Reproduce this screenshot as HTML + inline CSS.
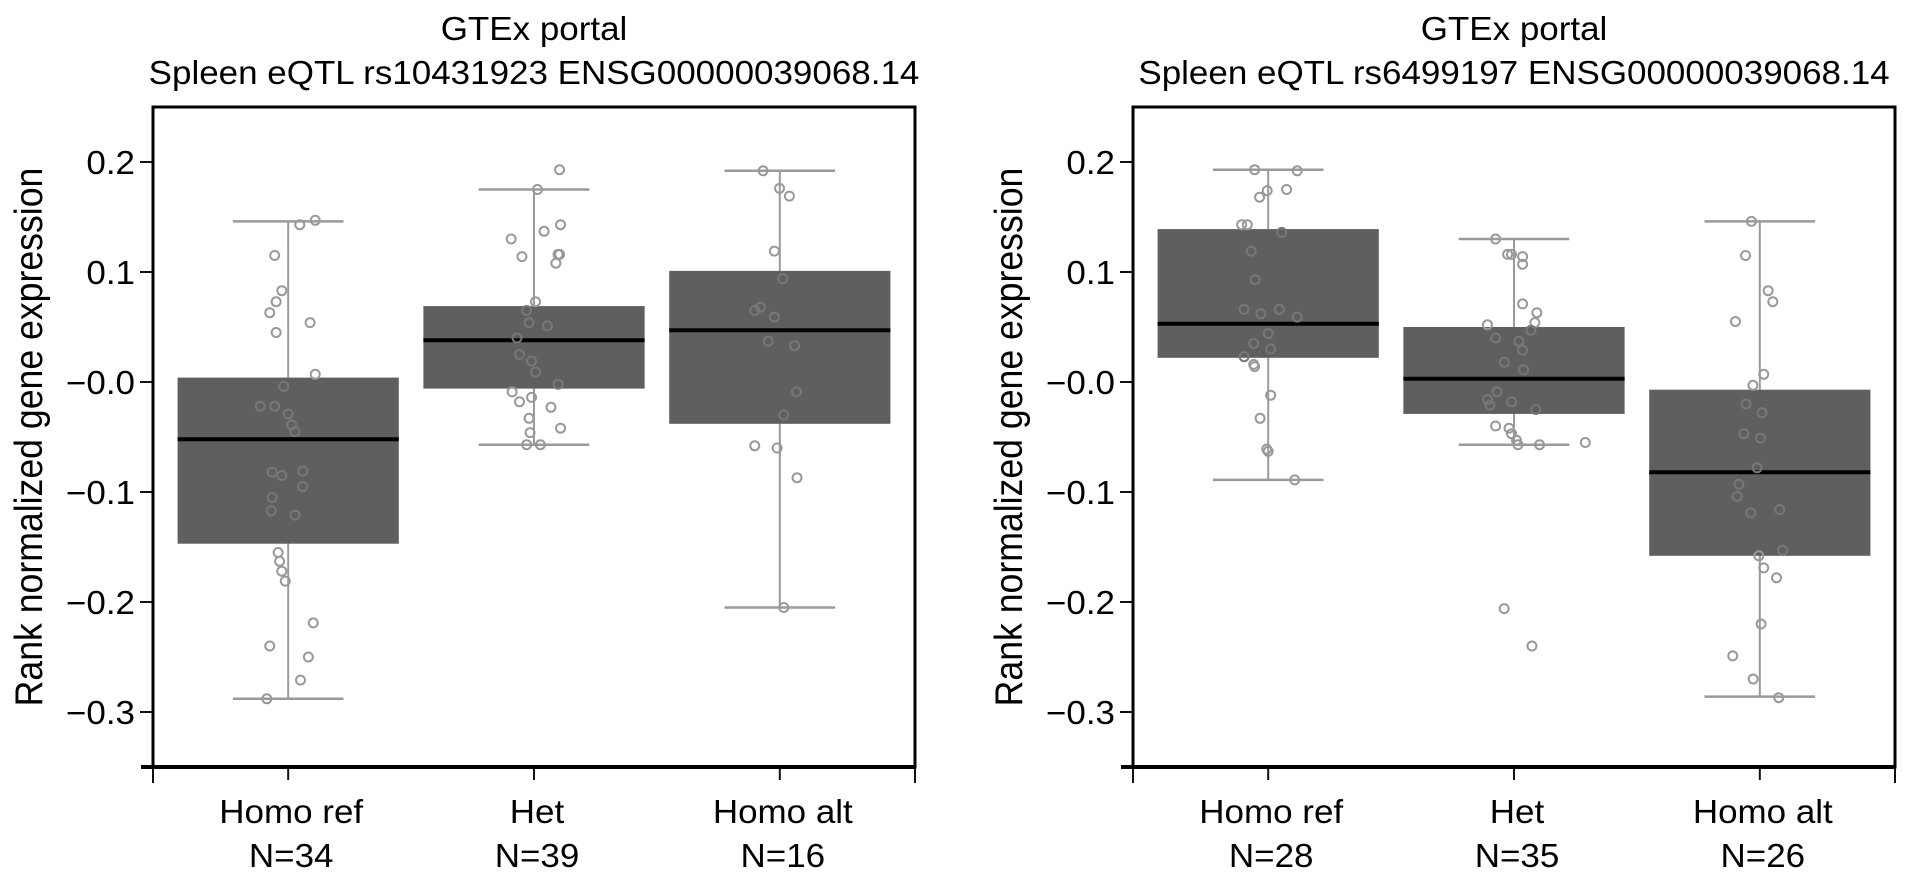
<!DOCTYPE html>
<html><head><meta charset="utf-8">
<style>
html,body{margin:0;padding:0;background:#fff;}
svg{display:block;}
text{font-family:"Liberation Sans",Arial,sans-serif;fill:#000;}
</style></head>
<body>
<svg id="chart" width="1913" height="877" viewBox="0 0 1913 877" xmlns="http://www.w3.org/2000/svg"></svg>
<script>
const categories = ["Homo ref","Het","Homo alt"];
const panelTitles = ["Spleen eQTL rs10431923 ENSG00000039068.14","Spleen eQTL rs6499197 ENSG00000039068.14"];
const countsA = [34,39,16];
const countsB = [28,35,26];
const yTicks = [0.2,0.1,0.0,-0.1,-0.2,-0.3];
const yTickLabels = ["0.2","0.1","\u22120.0","\u22120.1","\u22120.2","\u22120.3"];
// box stats: [whiskerLow, q1, median, q3, whiskerHigh]
const statsA = [[-0.288,-0.147,-0.052,0.004,0.146],[-0.057,-0.006,0.038,0.069,0.175],[-0.205,-0.038,0.047,0.101,0.192]];
const statsB = [[-0.089,0.022,0.053,0.139,0.193],[-0.057,-0.029,0.003,0.050,0.130],[-0.286,-0.158,-0.082,-0.007,0.146]];
// points: values and jitter (category units)
const ptsA0 = [0.143,0.147,0.115,0.083,0.073,0.063,0.054,0.045,0.007,-0.004,-0.022,-0.022,-0.029,-0.039,-0.045,-0.082,-0.085,-0.081,-0.095,-0.105,-0.117,-0.121,-0.155,-0.163,-0.172,-0.181,-0.219,-0.240,-0.250,-0.271,-0.288];
const jitA0 = [0.047,0.110,-0.055,-0.026,-0.049,-0.075,0.089,-0.049,0.110,-0.018,-0.114,-0.055,0,0.014,0.028,-0.065,-0.026,0.059,0.059,-0.065,-0.069,0.028,-0.041,-0.035,-0.026,-0.012,0.102,-0.075,0.082,0.050,-0.087];
const ptsA1 = [0.193,0.175,0.143,0.137,0.130,0.114,0.116,0.116,0.108,0.073,0.065,0.054,0.051,0.040,0.025,0.019,0.009,-0.002,-0.009,-0.018,-0.014,-0.023,-0.033,-0.042,-0.046,-0.057,-0.057];
const jitA1 = [0.104,0.014,0.108,0.041,-0.093,-0.049,0.098,0.104,0.089,0.006,-0.030,-0.020,0.055,-0.069,-0.059,-0.010,0.006,0.098,-0.089,-0.059,-0.010,0.069,-0.020,0.108,-0.016,-0.030,0.026];
const ptsA2 = [0.192,0.176,0.169,0.119,0.094,0.068,0.065,0.059,0.037,0.033,-0.009,-0.030,-0.058,-0.060,-0.087,-0.205];
const jitA2 = [-0.068,-0.001,0.039,-0.022,0.012,-0.079,-0.102,-0.022,-0.047,0.060,0.068,0.016,-0.102,-0.011,0.070,0.016];
const ptsB0 = [0.193,0.192,0.174,0.168,0.175,0.143,0.143,0.136,0.119,0.093,0.066,0.062,0.066,0.059,0.044,0.035,0.030,0.023,0.014,0.016,-0.012,-0.033,-0.061,-0.063,-0.089];
const jitB0 = [-0.055,0.118,-0.004,-0.035,0.075,-0.108,-0.085,0.055,-0.069,-0.053,-0.098,-0.030,0.045,0.118,0,-0.059,0.010,-0.098,-0.055,-0.059,0.010,-0.033,-0.006,0,0.108];
const ptsB1 = [0.130,0.116,0.116,0.114,0.107,0.071,0.063,0.054,0.052,0.047,0.040,0.037,0.029,0.018,0.011,-0.009,-0.016,-0.021,-0.018,-0.025,-0.040,-0.042,-0.047,-0.053,-0.057,-0.057,-0.206,-0.240,-0.055];
const jitB1 = [-0.075,-0.026,-0.010,0.035,0.035,0.035,0.093,0.085,-0.108,0.069,-0.075,0.020,0.035,-0.039,0.039,-0.069,-0.108,-0.098,-0.010,0.089,-0.075,-0.020,-0.010,0.010,0.016,0.104,-0.040,0.073,0.290];
const ptsB2 = [0.146,0.115,0.083,0.073,0.055,0.007,-0.003,-0.020,-0.028,-0.047,-0.051,-0.078,-0.093,-0.104,-0.119,-0.116,-0.153,-0.158,-0.169,-0.178,-0.220,-0.249,-0.270,-0.287];
const jitB2 = [-0.034,-0.058,0.034,0.053,-0.099,0.016,-0.028,-0.056,0.009,-0.065,0.003,-0.011,-0.085,-0.092,-0.037,0.081,0.093,-0.004,0.016,0.068,0.005,-0.110,-0.027,0.077];

const NS="http://www.w3.org/2000/svg";
const svg=document.getElementById('chart');
function el(tag,attrs,parent){const e=document.createElementNS(NS,tag);for(const k in attrs)e.setAttribute(k,attrs[k]);(parent||svg).appendChild(e);return e;}
function txt(str,x,y,size,anchor,parent,sx){const t=el('text',{'font-size':size,'text-anchor':anchor,transform:`translate(${x},${y}) scale(${sx||1.06},1)`},parent);t.textContent=str;return t;}

const Y0=-0.35,Y1=0.25,TOP=107,BOT=767;
function yScale(v){return BOT-(v-Y0)/(Y1-Y0)*(BOT-TOP);}
const panels=[
 {left:153,right:915,labelX:31,stats:statsA,counts:countsA,pts:[ptsA0,ptsA1,ptsA2],jit:[jitA0,jitA1,jitA2]},
 {left:1133,right:1895,labelX:1011,stats:statsB,counts:countsB,pts:[ptsB0,ptsB1,ptsB2],jit:[jitB0,jitB1,jitB2]}
];
panels.forEach((p,pi)=>{
 const g=el('g',{});
 
 
 const xScale=c=>p.left+(c+0.55)/3.1*(p.right-p.left);
 const unit=(p.right-p.left)/3.1;
 const cx=(p.left+p.right)/2;
 const t1=txt('GTEx portal',cx,40,33,'middle',g);
 
 const t2=txt(panelTitles[pi],cx,84,33,'middle',g);
 
 const yl=el('text',{'font-size':33,'text-anchor':'middle',transform:`translate(${p.labelX+11},${(TOP+BOT)/2}) rotate(-90) scale(1.08,1.18)`},g);
 yl.textContent='Rank normalized gene expression';
 
 yTicks.forEach((v,i)=>{
  const y=yScale(v);
  const tk=el('line',{x1:p.left-13,x2:p.left,y1:y,y2:y,stroke:'#111','stroke-width':2},g);
  
  const tl=txt(yTickLabels[i],p.left-18,y+12,33,'end',g);
  
 });
 categories.forEach((c,ci)=>{
  const s=p.stats[ci],x=xScale(ci),bw=0.9*unit,cw=0.45*unit;
  const bg=el('g',{},g);
  
  
  el('line',{x1:x,x2:x,y1:yScale(s[4]),y2:yScale(s[0]),stroke:'#9a9a9a','stroke-width':2},bg);
  el('line',{x1:x-cw/2,x2:x+cw/2,y1:yScale(s[4]),y2:yScale(s[4]),stroke:'#9a9a9a','stroke-width':2.5},bg);
  el('line',{x1:x-cw/2,x2:x+cw/2,y1:yScale(s[0]),y2:yScale(s[0]),stroke:'#9a9a9a','stroke-width':2.5},bg);
  el('rect',{x:x-bw/2,y:yScale(s[3]),width:bw,height:yScale(s[1])-yScale(s[3]),fill:'#5f5f5f'},bg);
  el('line',{x1:x-bw/2,x2:x+bw/2,y1:yScale(s[2]),y2:yScale(s[2]),stroke:'#000','stroke-width':4},bg);
  p.pts[ci].forEach((v,k)=>{
   const cy=yScale(v);
   const inside=cy>yScale(s[3])&&cy<yScale(s[1]);
   const pt=el('circle',{cx:x+p.jit[ci][k]*unit,cy:cy,r:4.5,fill:'none',stroke:inside?'#777':'#999','stroke-width':2},bg);
   
  });
  const tk=el('line',{x1:x,x2:x,y1:BOT,y2:BOT+13,stroke:'#111','stroke-width':2},g);
  
  const l1=txt(c,x+3,823,33,'middle',g);
  
  const l2=txt('N='+p.counts[ci],x+3,867,33,'middle',g);
  
 });
 [p.left,p.right].forEach(x=>{const e=el('line',{x1:x,x2:x,y1:BOT,y2:BOT+16,stroke:'#111','stroke-width':2},g);
  });
 const fr=el('rect',{x:p.left,y:TOP,width:p.right-p.left,height:BOT-TOP,fill:'none',stroke:'#000','stroke-width':3},g);
 
 const ba=el('line',{x1:p.left-12,x2:p.right,y1:BOT,y2:BOT,stroke:'#000','stroke-width':4},g);
 
});
</script>
</body></html>
